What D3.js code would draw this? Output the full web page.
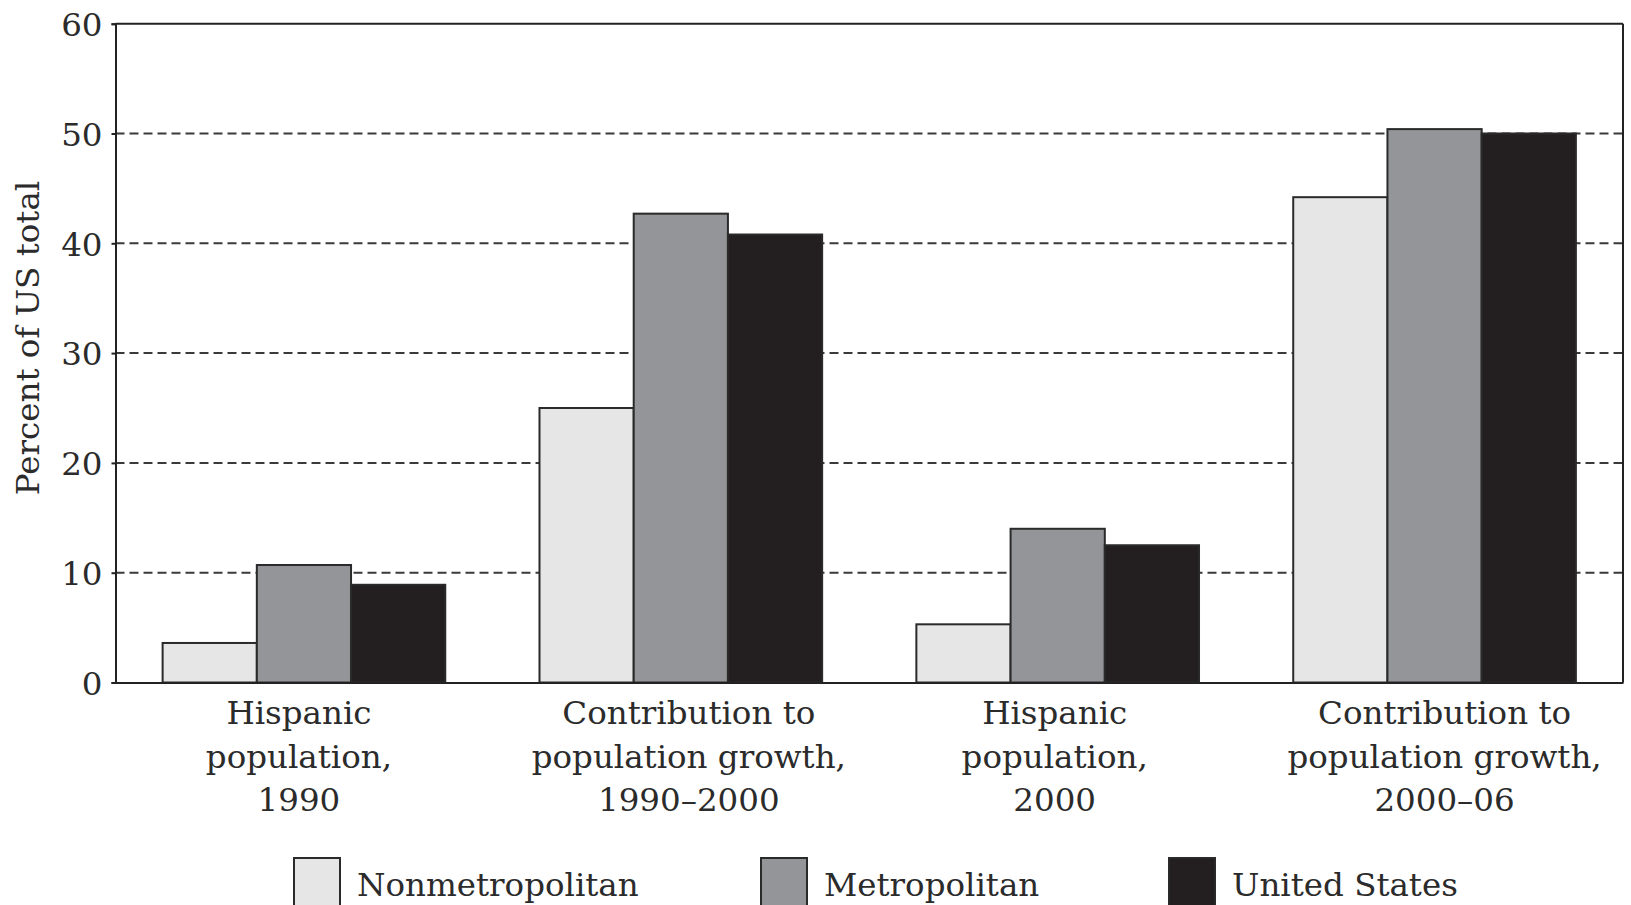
<!DOCTYPE html>
<html>
<head>
<meta charset="utf-8">
<script src="https://cdn.jsdelivr.net/npm/d3@7"></script>
<style>
  html, body { margin: 0; padding: 0; background: #fff; }
  svg { display: block; }
  text { font-family: "DejaVu Serif", "Liberation Serif", serif; fill: #2b2b2b; }
</style>
</head>
<body>
<svg id="chart" width="1631" height="905"></svg>
<script>
// ---- data ----
const categories = [
  ["Hispanic", "population,", "1990"],
  ["Contribution to", "population growth,", "1990–2000"],
  ["Hispanic", "population,", "2000"],
  ["Contribution to", "population growth,", "2000–06"]
];
const seriesNames = ["Nonmetropolitan", "Metropolitan", "United States"];
const nonmetroValues = [3.6, 25.0, 5.3, 44.2];
const metroValues = [10.7, 42.7, 14.0, 50.4];
const usValues = [8.9, 40.8, 12.5, 50.0];
const yTicks = [0, 10, 20, 30, 40, 50, 60];
const yLabel = "Percent of US total";

const seriesValues = [nonmetroValues, metroValues, usValues];
const colors = ["#e6e6e6", "#939598", "#231f20"];

// ---- layout ----
const svg = d3.select("#chart");
const mLeft = 115.5, mRight = 1623, mTop = 23.7, mBottom = 682.5;
const fontSize = 32.5;
const labelNudge = [-5, 8, -3, 10];
const catIdx = categories.map((d, i) => i);

const x0 = d3.scaleBand().domain(catIdx).range([mLeft, mRight]).paddingInner(0.25).paddingOuter(0.125);
const x1 = d3.scaleBand().domain(d3.range(seriesNames.length)).range([0, x0.bandwidth()]).padding(0);
const y = d3.scaleLinear().domain([0, 60]).range([mBottom, mTop]);
const color = d3.scaleOrdinal().domain(d3.range(3)).range(colors);

// gridlines
svg.append("g").selectAll("line")
  .data(yTicks.filter(t => t > 0 && t < 60))
  .join("line")
  .attr("x1", mLeft).attr("x2", mRight)
  .attr("y1", d => y(d)).attr("y2", d => y(d))
  .attr("stroke", "#3a3a3a").attr("stroke-width", 2)
  .attr("stroke-dasharray", "9,5");

// bars
const rows = [];
catIdx.forEach(c => seriesValues.forEach((vals, s) => rows.push({ c, s, v: vals[c] })));
svg.append("g").selectAll("rect")
  .data(rows)
  .join("rect")
  .attr("x", d => x0(d.c) + x1(d.s))
  .attr("width", x1.bandwidth())
  .attr("y", d => y(d.v))
  .attr("height", d => y(0) - y(d.v))
  .attr("fill", d => color(d.s))
  .attr("stroke", "#2a2a2a")
  .attr("stroke-width", 2);

// frame: top and right
svg.append("line").attr("x1", mLeft).attr("x2", mRight).attr("y1", y(60)).attr("y2", y(60))
  .attr("stroke", "#222").attr("stroke-width", 2);
svg.append("line").attr("x1", mRight).attr("x2", mRight).attr("y1", y(60)).attr("y2", y(0))
  .attr("stroke", "#222").attr("stroke-width", 2);

// y axis
const yAxis = svg.append("g").attr("transform", `translate(${mLeft},0)`)
  .call(d3.axisLeft(y).tickValues(yTicks).tickSize(4).tickPadding(9).tickFormat(d3.format("d")));
yAxis.select(".domain").attr("stroke", "#222").attr("stroke-width", 2);
yAxis.selectAll(".tick line").attr("stroke", "#222").attr("stroke-width", 2);
yAxis.selectAll(".tick text").attr("font-size", fontSize).attr("fill", "#2b2b2b")
  .attr("font-family", "DejaVu Serif, serif").attr("dy", "0.36em");

// x axis (baseline only)
const xAxis = svg.append("g").attr("transform", `translate(0,${mBottom})`)
  .call(d3.axisBottom(x0).tickSize(0).tickFormat(""));
xAxis.select(".domain").attr("stroke", "#222").attr("stroke-width", 2);

// category labels
const lab = svg.append("g").selectAll("text")
  .data(catIdx)
  .join("text")
  .attr("text-anchor", "middle")
  .attr("font-size", fontSize)
  .attr("transform", d => `translate(${x0(d) + x0.bandwidth() / 2 + labelNudge[d]},724)`);
lab.selectAll("tspan")
  .data(d => categories[d])
  .join("tspan")
  .attr("x", 0)
  .attr("y", (d, i) => i * 43.5)
  .text(d => d);

// y label
svg.append("text")
  .attr("transform", "translate(39,338) rotate(-90)")
  .attr("text-anchor", "middle")
  .attr("font-size", fontSize)
  .text(yLabel);

// legend
const legendX = [294, 761, 1169];
const lg = svg.append("g").selectAll("g")
  .data(seriesNames)
  .join("g")
  .attr("transform", (d, i) => `translate(${legendX[i]},858)`);
lg.append("rect")
  .attr("width", 46).attr("height", 48)
  .attr("fill", (d, i) => color(i))
  .attr("stroke", "#2a2a2a").attr("stroke-width", 2);
lg.append("text")
  .attr("x", 63).attr("y", 38)
  .attr("font-size", fontSize)
  .text(d => d);
</script>
</body>
</html>
